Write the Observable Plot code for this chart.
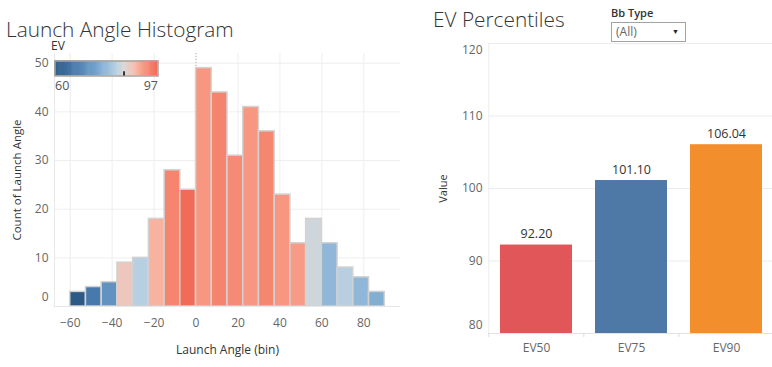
<!DOCTYPE html>
<html>
<head>
<meta charset="utf-8">
<script src="https://cdn.jsdelivr.net/npm/d3@7"></script>
<script src="https://cdn.jsdelivr.net/npm/@observablehq/plot@0.6"></script>
<style>
  html, body { margin: 0; padding: 0; background: #fff; }
  #wrap { position: relative; width: 772px; height: 367px; overflow: hidden; background: #fff; font-family: "Open Sans", sans-serif; }
  .abs { position: absolute; }
  .title { font-size: 20.8px; font-weight: 300; color: #333; line-height: 16px; white-space: nowrap; }
  .ftitle { font-size: 11px; font-weight: 600; color: #333; line-height: 13px; white-space: nowrap; }
  .dd { box-sizing: border-box; border: 1px solid #a3a3a3; background: #fff; font-size: 12px; color: #666; line-height: 17px; padding-left: 4px; }
  .dd .arr { position: absolute; right: 6px; top: 0; font-size: 7px; color: #222; line-height: 17px; }
</style>
</head>
<body>
<div id="wrap">
  <div class="abs title" style="left:6px; top:21.2px;">Launch Angle Histogram</div>
  <div class="abs title" style="left:433px; top:10.6px;">EV Percentiles</div>
  <div class="abs ftitle" style="left:611px; top:6px;">Bb Type</div>
  <div class="abs dd" style="left:611px; top:22px; width:75px; height:20px;">(All)<span class="arr">&#9660;</span></div>
</div>
<script>
// ---------- Histogram data ----------
const binStart = [-60, -52.5, -45, -37.5, -30, -22.5, -15, -7.5, 0, 7.5, 15, 22.5, 30, 37.5, 45, 52.5, 60, 67.5, 75, 82.5];
const binWidth = 7.5;
const binCount = [3, 4, 5, 9, 10, 18, 28, 24, 49, 44, 31, 41, 36, 23, 13, 18, 13, 8, 6, 3];
const binAvgEV = [60, 66.8, 71.5, 87.3, 82, 89.8, 94, 97, 92.2, 94.2, 93.3, 92.2, 93.8, 92.2, 91.8, 84, 78, 82, 78, 76.5];
const angleTicks = [-60, -40, -20, 0, 20, 40, 60, 80];
const countTicks = [0, 10, 20, 30, 40, 50];
const angleDomain = [-67.5, 97.5];
const countDomain = [0, 52];

// EV colour legend
const evRange = [60, 97];
const evMid = 84.8;
const evStops = [60, 67.4, 74.8, 81.5, 84.8, 88.9, 92.9, 97];
const evColors = ["#2c5985", "#4b7caf", "#72a3cd", "#b1cde1", "#d9d9d9", "#f9bcab", "#f68f78", "#f26b57"];

// ---------- Percentile data ----------
const pctCats = ["EV50", "EV75", "EV90"];
const pctValues = [92.20, 101.10, 106.04];
const pctColors = ["#e15759", "#4e79a7", "#f28e2b"];
const valueTicks = [80, 90, 100, 110, 120];
const valueDomain = [80, 120];

const hist = binStart.map((b, i) => ({bin: b, count: binCount[i], ev: binAvgEV[i]}));
const pct = pctCats.map((c, i) => ({cat: c, value: pctValues[i]}));

const colorSpec = {type: "linear", domain: evStops, range: evColors, interpolate: "rgb"};
const baseStyle = {fontFamily: "Open Sans, sans-serif", fontSize: "12px", color: "#666", background: "transparent", overflow: "visible"};

const wrap = document.getElementById("wrap");
function place(el, left, top) {
  el.style.position = "absolute";
  el.style.left = left + "px";
  el.style.top = top + "px";
  wrap.appendChild(el);
}

// ---------- Left: histogram ----------
const histPlot = Plot.plot({
  width: 410, height: 367,
  marginLeft: 54, marginRight: 10, marginTop: 53, marginBottom: 61,
  style: baseStyle,
  x: {domain: angleDomain, label: null},
  y: {domain: countDomain, label: null},
  color: colorSpec,
  marks: [
    Plot.gridX(angleTicks, {stroke: "#eeeeee", strokeOpacity: 1}),
    Plot.gridY(countTicks.filter(t => t > 0), {stroke: "#eeeeee", strokeOpacity: 1}),
    Plot.ruleX([angleDomain[0]], {stroke: "#e8e8e8"}),
    Plot.ruleX([0], {stroke: "#b0b0b0", strokeDasharray: "1,2"}),
    Plot.rectY(hist, {x1: "bin", x2: d => d.bin + binWidth, y: "count", fill: "ev", stroke: "#d2d2d2", strokeWidth: 1.5}),
    Plot.ruleY([0], {stroke: "#e6e6e6"}),
    Plot.axisX(angleTicks, {tickSize: 0, tickPadding: 12}),
    Plot.axisY(countTicks.filter(t => t > 0), {tickSize: 0, tickPadding: 6}),
    Plot.axisY([0], {tickSize: 0, tickPadding: 6, dy: -9}),
    Plot.text(["Launch Angle (bin)"], {frameAnchor: "bottom", lineAnchor: "middle", textAnchor: "middle", dy: 44, fill: "#333", fontSize: 12}),
    Plot.text(["Count of Launch Angle"], {frameAnchor: "left", lineAnchor: "middle", textAnchor: "middle", dx: -37, rotate: -90, fill: "#333", fontSize: 11.5})
  ]
});
place(histPlot, 0, 0);

// ---------- Colour legend (overlay) ----------
const rampStep = (evRange[1] - evRange[0]) / 110;
const ramp = d3.range(evRange[0], evRange[1], rampStep);
const legendPlot = Plot.plot({
  width: 170, height: 95,
  marginLeft: 54.5, marginRight: 12.5, marginTop: 60.5, marginBottom: 19.5,
  style: {...baseStyle, fontSize: "12.5px", color: "#555"},
  x: {domain: evRange, axis: null},
  y: {domain: [0, 1], axis: null},
  color: colorSpec,
  marks: [
    Plot.rect(ramp, {x1: d => d, x2: d => Math.min(d + rampStep * 1.6, evRange[1]), y1: 0, y2: 1, fill: d => d + rampStep / 2}),
    Plot.frame({stroke: "#a9a49c", strokeWidth: 1.5}),
    Plot.ruleX([evMid], {y1: 0, y2: 0.28, stroke: "#000", strokeWidth: 1.5}),
    Plot.text([evRange[0]], {x: d => d, text: d => String(d), frameAnchor: "bottom", lineAnchor: "middle", dy: 10, textAnchor: "start"}),
    Plot.text([evRange[1]], {x: d => d, text: d => String(d), frameAnchor: "bottom", lineAnchor: "middle", dy: 10, textAnchor: "end"}),
    Plot.text(["EV"], {frameAnchor: "top-left", lineAnchor: "middle", dx: -4, dy: -15, textAnchor: "start", fill: "#333", fontSize: 12})
  ]
});
place(legendPlot, 0, 0);

// ---------- Right: EV percentiles ----------
const rW = 354, rML = 68, rMR = 0;
const step = (rW - rML - rMR) / pctCats.length;
const pctPlot = Plot.plot({
  width: rW, height: 367,
  marginLeft: rML, marginRight: rMR, marginTop: 43, marginBottom: 34,
  style: baseStyle,
  x: {domain: pctCats, paddingInner: 0.245, paddingOuter: 0.1225, label: null},
  y: {domain: valueDomain, label: null},
  color: {domain: pctCats, range: pctColors},
  marks: [
    Plot.gridY(valueTicks.filter(t => t > valueDomain[0]), {stroke: "#ececec", strokeOpacity: 1}),
    Plot.ruleX([pctCats[0]], {dx: -step / 2, stroke: "#ececec"}),
    Plot.barY(pct, {x: "cat", y: "value", fill: "cat", clip: true}),
    Plot.ruleY([valueDomain[0]], {stroke: "#e2e2e2"}),
    Plot.axisX({tickSize: 4, tickFormat: () => "", dx: -step / 2, stroke: "#dcdcdc"}),
    Plot.axisX({tickSize: 0, tickPadding: 10}),
    Plot.axisY([90, 100, 110], {tickSize: 0, tickPadding: 6}),
    Plot.axisY([120], {tickSize: 0, tickPadding: 6, dy: 7}),
    Plot.axisY([80], {tickSize: 0, tickPadding: 6, dy: -8.5}),
    Plot.text(pct, {x: "cat", y: "value", text: d => d.value.toFixed(2), dy: -11, fill: "#333", fontSize: 12.5}),
    Plot.text(["Value"], {frameAnchor: "left", lineAnchor: "middle", textAnchor: "middle", dx: -45, rotate: -90, fill: "#333", fontSize: 11})
  ]
});
place(pctPlot, 420, 0);
</script>
</body>
</html>
